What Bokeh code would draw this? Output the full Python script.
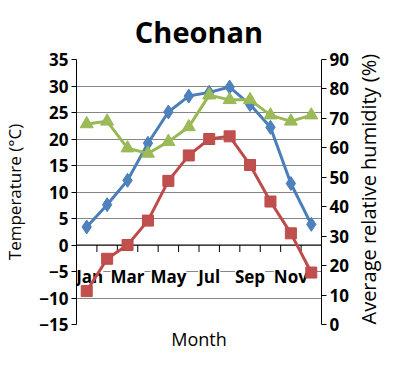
import numpy as np
from bokeh.plotting import figure
from bokeh.models import (Range1d, LinearAxis, FixedTicker, Span, Title)
from bokeh.core.properties import value
from bokeh.embed import file_html
from bokeh.resources import INLINE

# ---- data ----
months = ["Jan", "Feb", "Mar", "Apr", "May", "Jun",
          "Jul", "Aug", "Sep", "Oct", "Nov", "Dec"]
max_temp = [3.4, 7.6, 12.2, 19.2, 25.1, 28.1, 28.8, 29.8, 26.5, 22.2, 11.6, 3.9]
min_temp = [-8.7, -2.6, 0.0, 4.6, 12.1, 16.9, 20.0, 20.5, 15.1, 8.2, 2.2, -5.2]
humidity = [68.1, 69.0, 59.9, 58.1, 62.1, 67.1, 77.9, 76.3, 76.3, 71.1, 69.0, 71.1]
temp_ticks = [-15, -10, -5, 0, 5, 10, 15, 20, 25, 30, 35]
hum_ticks = [0, 10, 20, 30, 40, 50, 60, 70, 80, 90]

FONT = "Open Sans"
BLUE_L, BLUE_F = "#4A7EBB", "#4F81BD"
RED_L, RED_F = "#BE4B48", "#C0504D"
GREEN_L, GREEN_F = "#98B954", "#9BBB59"

xs = list(range(1, len(months) + 1))
x_lo, x_hi = 0.5, len(months) + 0.5

p = figure(width=398, height=350,
           x_range=Range1d(x_lo, x_hi),
           y_range=Range1d(temp_ticks[0], temp_ticks[-1]),
           x_axis_location=None,
           output_backend="svg", toolbar_location=None,
           min_border_left=75, min_border_right=75,
           min_border_top=54, min_border_bottom=20)
p.extra_y_ranges = {"hum": Range1d(hum_ticks[0], hum_ticks[-1])}
p.outline_line_color = None
p.background_fill_color = "white"
p.xgrid.visible = False

# title
p.title.text = "Cheonan"
p.title.align = "center"
p.title.text_font = FONT
p.title.text_font_size = "29px"
p.title.text_font_style = "bold"
p.title.text_color = "black"
p.title.standoff = 18

# bottom title
p.add_layout(Title(text="Month", align="center", text_font=FONT,
                   text_font_size="18px", text_font_style="normal",
                   text_color="black", standoff=0), "below")


def style_y(ax):
    ax.axis_line_color = "black"
    ax.major_tick_line_color = "black"
    ax.minor_tick_line_color = None
    ax.major_tick_in = 0
    ax.major_tick_out = 5
    ax.major_label_text_font = FONT
    ax.major_label_text_font_size = "17px"
    ax.major_label_text_font_style = "bold"
    ax.major_label_text_color = "black"
    ax.major_label_standoff = 3
    ax.axis_label_text_font = FONT
    ax.axis_label_text_font_size = "17px"
    ax.axis_label_text_font_style = "normal"
    ax.axis_label_text_color = "black"
    ax.axis_label_standoff = 10


ya = p.yaxis[0]
ya.ticker = FixedTicker(ticks=temp_ticks)
ya.axis_label = "Temperature (°C)"
style_y(ya)
p.ygrid.ticker = FixedTicker(ticks=temp_ticks)
p.ygrid.grid_line_color = "#868686"
p.ygrid.grid_line_width = 1

ra = LinearAxis(y_range_name="hum", ticker=FixedTicker(ticks=hum_ticks))
style_y(ra)
p.add_layout(ra, "right")

# right-hand axis title, reading bottom to top (drawn as a rotated label
# that starts at the bottom of the humidity axis)
hl = LinearAxis(y_range_name="hum", ticker=FixedTicker(ticks=[hum_ticks[0]]),
                major_label_overrides={hum_ticks[0]:
                                       "Average relative humidity (%)"},
                major_label_orientation=np.pi / 2)
hl.axis_line_color = None
hl.major_tick_line_color = None
hl.minor_tick_line_color = None
hl.major_tick_in = 0
hl.major_tick_out = 0
hl.major_label_standoff = 17
hl.major_label_text_font = FONT
hl.major_label_text_font_size = "20px"
hl.major_label_text_font_style = "normal"
hl.major_label_text_color = "black"
p.add_layout(hl, "right")

# category axis crossing at temperature 0
zero = Span(location=0, dimension="width", line_color="black", line_width=1,
            level="underlay")
p.add_layout(zero)
bounds = [x + 0.5 for x in xs[:-1]]
p.ray(x=bounds, y=[0] * len(bounds), length=7, length_units="screen",
      angle=-np.pi / 2, line_color="black", line_width=1)
lab_x = xs[::2]
lab_nudge = [3] + [0] * (len(lab_x) - 1)   # keep "Jan" inside the frame
p.text(x=lab_x, y=[0] * len(lab_x), text=months[::2],
       x_offset=lab_nudge, y_offset=31, text_align="center",
       text_baseline="middle", text_font=value(FONT),
       text_font_size="17px", text_font_style="bold", text_color="black",
       background_fill_color="white")

# series
p.line(xs, max_temp, line_color=BLUE_L, line_width=3)
p.scatter(xs, max_temp, marker="diamond", size=14, fill_color=BLUE_F,
          line_color=BLUE_L)
p.line(xs, min_temp, line_color=RED_L, line_width=3)
p.scatter(xs, min_temp, marker="square", size=11, fill_color=RED_F,
          line_color=RED_L)
p.line(xs, humidity, line_color=GREEN_L, line_width=3, y_range_name="hum")
p.scatter(xs, humidity, marker="triangle", size=13, fill_color=GREEN_F,
          line_color=GREEN_L, y_range_name="hum")

open("out.html", "w").write(file_html(p, INLINE))
